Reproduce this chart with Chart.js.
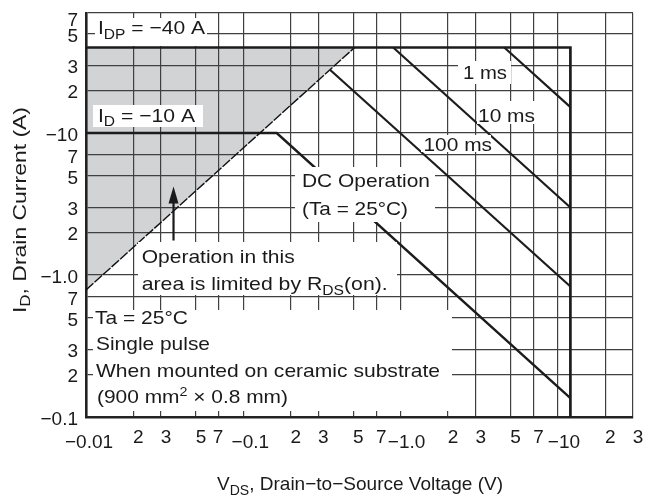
<!DOCTYPE html>
<html><head><meta charset="utf-8">
<script src="https://cdn.jsdelivr.net/npm/chart.js@4.4.0/dist/chart.umd.min.js"></script>
<style>html,body{margin:0;padding:0;background:#fff;}canvas{display:block;}</style>
</head><body>
<canvas id="c" width="655" height="502"></canvas>
<script>
// ---- tick values / labels ----
const xTickValues = [0.01,0.02,0.03,0.05,0.07,0.1,0.2,0.3,0.5,0.7,1,2,3,5,7,10,20,30];
const xTickLabels = ['−0.01','2','3','5','7','−0.1','2','3','5','7','−1.0','2','3','5','7','−10','2','3'];
const yTickValues = [0.1,0.2,0.3,0.5,0.7,1,2,3,5,7,10,20,30,50,70];
const yTickLabels = ['−0.1','2','3','5','7','−1.0','2','3','5','7','−10','2','3','5','7'];

// ---- safe operating area curves (|VDS| in V, |ID| in A) ----
const rdsLimit   = [{x:0.01,y:0.784},{x:0.51,y:40}];
const envelope   = [{x:0.01,y:40},{x:12,y:40},{x:12,y:0.1}];
const dcLine     = [{x:0.01,y:10},{x:0.163,y:10},{x:12,y:0.136}];
const pulse100ms = [{x:0.357,y:27.8},{x:12,y:0.83}];
const pulse10ms  = [{x:0.897,y:40},{x:12,y:2.99}];
const pulse1ms   = [{x:4.56,y:40},{x:12,y:15.2}];
const arrowV = 0.036, arrowFromI = 1.75, arrowToI = 4.2;

const FONT = '"Liberation Sans", Arial, Helvetica, sans-serif';
const INK = '#1a1a1a';

function richText(ctx, x, y, parts, target, sx0) {
  const fontFor = t => (t==='sub'?14:(t==='sup'?13:19)) + 'px ' + FONT;
  let w = 0;
  parts.forEach(([s,t]) => { ctx.font = fontFor(t); w += ctx.measureText(s).width; });
  const sx = target ? target / w : (sx0 || 1);
  ctx.save();
  ctx.translate(x, y); ctx.scale(sx, 1);
  ctx.textAlign = 'left'; ctx.textBaseline = 'alphabetic'; ctx.fillStyle = INK;
  let cx = 0;
  parts.forEach(([s,t]) => {
    ctx.font = fontFor(t);
    const dy = t==='sub' ? 4.5 : (t==='sup' ? -7.5 : 0);
    ctx.fillText(s, cx, dy);
    cx += ctx.measureText(s).width;
  });
  ctx.restore();
}

const boxes = [
  [95,18,112,28],    // IDP
  [93,105,110,22],   // ID
  [458,61,53,23],    // 1 ms
  [477,101,62,23],   // 10 ms
  [421,135,70,17],   // 100 ms
  [295,167,140,55],  // DC operation
  [138,242,259,53],  // Operation in this area
  [93,310,359,101]   // conditions
];

const annotate = {
  id: 'annotate',
  afterDatasetsDraw(chart) {
    const ctx = chart.ctx;
    ctx.save();
    ctx.fillStyle = '#fff';
    boxes.forEach(b => ctx.fillRect(b[0], b[1], b[2], b[3]));
    ctx.restore();

    richText(ctx, 98, 34, [['I',''],['DP','sub'],[' = −40 A','']], 107);
    richText(ctx, 98, 121.7, [['I',''],['D','sub'],[' = −10 A','']], 97);
    richText(ctx, 463, 79, [['1 ms','']], 44);
    richText(ctx, 478, 121.7, [['10 ms','']], 57);
    richText(ctx, 423.5, 151, [['100 ms','']], 68.5);
    richText(ctx, 302, 187, [['DC Operation','']], 128);
    richText(ctx, 302, 215, [['(Ta = 25°C)','']], 106);
    richText(ctx, 141.7, 263, [['Operation in this','']], 153);
    richText(ctx, 141.7, 290, [['area is limited by R',''],['DS','sub'],['(on).','']], 246);
    richText(ctx, 95, 324, [['Ta = 25°C','']], 93);
    richText(ctx, 96, 350, [['Single pulse','']], 114);
    richText(ctx, 96, 377, [['When mounted on ceramic substrate','']], 344);
    richText(ctx, 97, 403, [['(900 mm',''],['2','sup'],[' × 0.8 mm)','']], 191);

    // arrow
    const xs = chart.scales.x, ys = chart.scales.y;
    const ax = xs.getPixelForValue(arrowV);
    const y0 = ys.getPixelForValue(arrowFromI), y1 = ys.getPixelForValue(arrowToI);
    ctx.save();
    ctx.strokeStyle = INK; ctx.fillStyle = INK; ctx.lineWidth = 2.2;
    ctx.beginPath(); ctx.moveTo(ax, y0); ctx.lineTo(ax, y1 + 14); ctx.stroke();
    ctx.beginPath(); ctx.moveTo(ax, y1); ctx.lineTo(ax - 5, y1 + 17); ctx.lineTo(ax + 5, y1 + 17); ctx.closePath(); ctx.fill();
    ctx.restore();
  },
  afterDraw(chart) {
    const ctx = chart.ctx;
    const xs = chart.scales.x, ys = chart.scales.y;
    ctx.save();
    ctx.fillStyle = INK;
    ctx.font = '19px ' + FONT;
    ctx.textBaseline = 'alphabetic';
    ctx.textAlign = 'center';
    xTickValues.forEach((v, i) => {
      const lab = xTickLabels[i];
      const decade = lab.charAt(0) === '−';
      let px = xs.getPixelForValue(v) + (decade ? 6 : 5);
      if (i === 0) px -= 3;
      if (i === 4) px -= 6;
      if (i === 5) px += 1;
      ctx.fillText(lab, px, decade ? 447.5 : 442.5);
    });
    ctx.textAlign = 'right';
    yTickValues.forEach((v, i) => {
      let py = ys.getPixelForValue(v) + 7.8;
      if (i === yTickValues.length - 1) py = ys.getPixelForValue(v) + 13;
      ctx.fillText(yTickLabels[i], 78, py);
    });
    ctx.restore();

    richText(ctx, 217, 490, [['V',''],['DS','sub'],[', Drain−to−Source Voltage (V)','']], 286);
    ctx.save();
    ctx.translate(25.5, 313);
    ctx.rotate(-Math.PI / 2);
    richText(ctx, 0, 0, [['I',''],['D','sub'],[', Drain Current (A)','']], 206);
    ctx.restore();
  }
};

const lineDs = (data, w, extra) => Object.assign({
  data, showLine: true, borderColor: '#1c1c1c', borderWidth: w,
  pointRadius: 0, fill: false, tension: 0
}, extra || {});

new Chart(document.getElementById('c'), {
  type: 'scatter',
  data: {
    datasets: [
      lineDs(rdsLimit, 1.4, { borderColor: '#111', borderDash: [10, 1.5], fill: { value: 40 }, backgroundColor: '#d1d3d4' }),
      lineDs(envelope, 2.7),
      lineDs(dcLine, 2.4),
      lineDs(pulse100ms, 2.2),
      lineDs(pulse10ms, 2.2),
      lineDs(pulse1ms, 2.2)
    ]
  },
  options: {
    responsive: false,
    animation: false,
    devicePixelRatio: 1,
    layout: { padding: { top: 13, right: 22, left: 0, bottom: 0 } },
    plugins: {
      legend: { display: false },
      tooltip: { enabled: false },
      filler: { drawTime: 'beforeDraw' }
    },
    scales: {
      x: {
        type: 'logarithmic', min: 0.01, max: 30,
        afterBuildTicks: s => { s.ticks = xTickValues.map(v => ({ value: v })); },
        afterFit: s => { s.height = 85; },
        ticks: { display: false },
        grid: { color: '#404040', lineWidth: 1.2, drawTicks: false },
        border: { display: true, color: '#222', width: 2.6 }
      },
      y: {
        type: 'logarithmic', min: 0.1, max: 70,
        afterBuildTicks: s => { s.ticks = yTickValues.map(v => ({ value: v })); },
        afterFit: s => { s.width = 86; },
        ticks: { display: false },
        grid: { color: '#404040', lineWidth: 1.2, drawTicks: false },
        border: { display: true, color: '#222', width: 2.6 }
      }
    }
  },
  plugins: [annotate]
});
</script>
</body></html>
